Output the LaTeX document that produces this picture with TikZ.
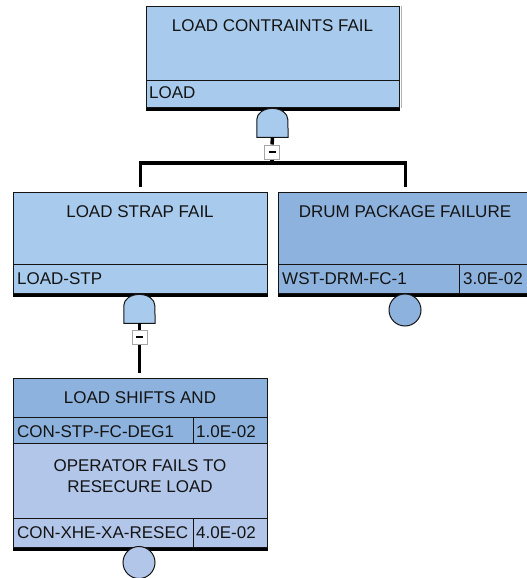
\documentclass[tikz,border=0pt]{standalone}
\usepackage{fontspec}
\setmainfont{Liberation Sans}
\definecolor{evtop}{RGB}{168,202,236}
\definecolor{evmid}{RGB}{141,178,222}
\definecolor{evpale}{RGB}{178,198,234}
\definecolor{ink}{RGB}{20,20,20}
\begin{document}
\begin{tikzpicture}[x=1pt,y=-1pt,
  cell/.style={draw=ink, line width=1pt, inner sep=0pt, anchor=north west},
  lbl/.style={font=\fontsize{17}{22}\selectfont, text=ink, inner sep=0pt},
  conn/.style={line width=3.5pt, draw=black},
  shadowline/.style={line width=3pt, draw=black},
  gatebody/.style={draw=ink, line width=1pt, fill=evtop},
  gatebox/.style={minimum width=31pt, minimum height=29pt, inner sep=0pt, anchor=north},
  minusbox/.style={draw=gray!70, fill=white, line width=1pt, minimum width=15pt, minimum height=14pt, inner sep=0pt},
  basic/.style={circle, draw=ink, line width=1pt, minimum size=32pt, inner sep=0pt},
]
\useasboundingbox (0,0) rectangle (527,578);
\clip (0,0) rectangle (527,578);

% ---- top event: LOAD ----
\node[cell, fill=evtop, minimum width=253pt, minimum height=74pt] (topT) at (146,6) {};
\node[cell, fill=evtop, minimum width=253pt, minimum height=27pt] (topI) at (146,80) {};
\draw[shadowline] ([yshift=-1pt]topI.south west) -- ([yshift=-1pt]topI.south east);
\draw[gray!60, line width=1pt] ([xshift=1pt]topT.north east) -- ([xshift=1pt]topI.south east);
\node[lbl, anchor=base] (topTtx) at (272.5,31.5) {LOAD CONTRAINTS FAIL};
\node[lbl, anchor=base west] (topItx) at (149,98) {LOAD};

% AND gate under LOAD
\node[gatebox] (g1) at (272.5,108) {};
\draw[gatebody] (g1.south west) -- ++(0,-18) arc[start angle=180, end angle=0, x radius=15.5pt, y radius=11pt] -- (g1.south east) -- cycle;
\node[minusbox] (m1) at (272,152) {\rule{7pt}{1.6pt}};
\coordinate (bar1) at (272,163);

% ---- LOAD-STP ----
\node[cell, fill=evtop, minimum width=254pt, minimum height=72pt] (lsT) at (13,192) {};
\node[cell, fill=evtop, minimum width=254pt, minimum height=29pt] (lsI) at (13,264) {};
\draw[shadowline] ([yshift=-1pt]lsI.south west) -- ([yshift=-1pt]lsI.south east);
\node[lbl, anchor=base] (lsTtx) at (140,217) {LOAD STRAP FAIL};
\node[lbl, anchor=base west] (lsItx) at (17,284) {LOAD-STP};

% AND gate under LOAD-STP
\node[gatebox] (g2) at (139.5,294) {};
\draw[gatebody] (g2.south west) -- ++(0,-18) arc[start angle=180, end angle=0, x radius=15.5pt, y radius=11pt] -- (g2.south east) -- cycle;
\node[minusbox] (m2) at (139.5,337) {\rule{7pt}{1.6pt}};

% ---- WST-DRM-FC-1 ----
\node[cell, fill=evmid, minimum width=254pt, minimum height=72pt] (drT) at (278,192) {};
\node[cell, fill=evmid, minimum width=181pt, minimum height=29pt] (drI) at (278,264) {};
\node[cell, fill=evmid, minimum width=73pt, minimum height=29pt] (drP) at (459,264) {};
\draw[shadowline] ([yshift=-1pt]drI.south west) -- ([yshift=-1pt]drP.south east);
\node[lbl, anchor=base] (drTtx) at (405,217) {DRUM PACKAGE FAILURE};
\node[lbl, anchor=base west] (drItx) at (282,284) {WST-DRM-FC-1};
\node[lbl, anchor=base west] (drPtx) at (463,284) {3.0E-02};
\node[basic, fill=evmid] (drC) at (405,310) {};

% ---- LOAD SHIFTS AND / OPERATOR FAILS ----
\node[cell, fill=evmid, minimum width=254pt, minimum height=39pt] (shT) at (13,378) {};
\node[cell, fill=evmid, minimum width=180pt, minimum height=26pt] (shI) at (13,417) {};
\node[cell, fill=evmid, minimum width=74pt, minimum height=26pt] (shP) at (193,417) {};
\node[cell, fill=evpale, minimum width=254pt, minimum height=75pt] (opT) at (13,443) {};
\node[cell, fill=evpale, minimum width=180pt, minimum height=29pt] (opI) at (13,518) {};
\node[cell, fill=evpale, minimum width=74pt, minimum height=29pt] (opP) at (193,518) {};
\draw[shadowline] ([yshift=-1pt]opI.south west) -- ([yshift=-1pt]opP.south east);
\node[lbl, anchor=base] (shTtx) at (140,403) {LOAD SHIFTS AND};
\node[lbl, anchor=base west] (shItx) at (17,437) {CON-STP-FC-DEG1};
\node[lbl, anchor=base west] (shPtx) at (196,437) {1.0E-02};
\node[lbl, anchor=base] (opT1) at (140,471) {OPERATOR FAILS TO};
\node[lbl, anchor=base] (opT2) at (140,492) {RESECURE LOAD};
\node[lbl, anchor=base west] (opItx) at (17,538) {CON-XHE-XA-RESEC};
\node[lbl, anchor=base west] (opPtx) at (196,538) {4.0E-02};
\node[basic, fill=evpale] (opC) at (139,562.5) {};

% ---- connectors ----
\draw[conn] (g1.south) -- (m1.north);
\draw[conn] (m1.south) -- (bar1);
\draw[conn, shorten >=5pt] (bar1) -| (lsT.north);
\draw[conn, shorten >=5pt] (bar1) -| (drT.north);
\draw[conn] (g2.south) -- (m2.north);
\draw[conn, shorten >=5pt] (m2.south) -- (m2.south |- shT.north);
\end{tikzpicture}
\end{document}
